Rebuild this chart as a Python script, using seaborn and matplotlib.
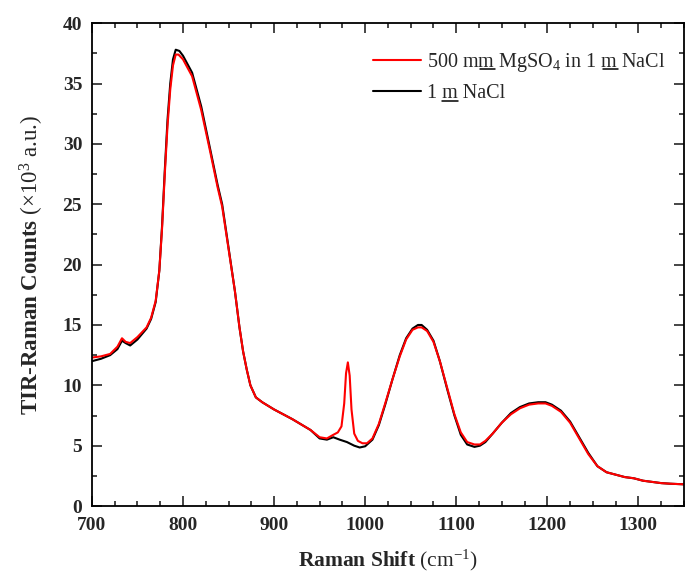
import matplotlib

matplotlib.use("Agg")

import matplotlib.pyplot as plt
import seaborn as sns
from matplotlib.lines import Line2D
from matplotlib.ticker import MultipleLocator

# Raman spectra (x in cm^-1, y in 10^3 counts)
mgso4_shift = [700, 710, 720, 728, 733, 737, 742, 750, 760, 765, 770, 774, 777, 780,
               783, 786, 789, 792, 795, 800, 810, 820, 830, 838, 843, 850, 857, 862,
               866, 870, 874, 880, 887, 900, 920, 940, 950, 958, 965, 970, 974, 977,
               979, 981, 983, 985, 988, 992, 997, 1002, 1008, 1015, 1022, 1030, 1038,
               1045, 1052, 1058, 1062, 1068, 1075, 1082, 1090, 1098, 1105, 1112, 1120,
               1126, 1132, 1140, 1150, 1160, 1170, 1180, 1190, 1198, 1205, 1215, 1225,
               1235, 1245, 1255, 1265, 1275, 1285, 1295, 1305, 1315, 1325, 1335, 1350]
mgso4_counts = [12.3, 12.4, 12.6, 13.2, 13.9, 13.6, 13.5, 14.0, 14.8, 15.6, 17.0, 19.5,
                23.0, 27.5, 31.5, 34.5, 36.5, 37.4, 37.4, 37.0, 35.6, 32.8, 29.3, 26.4,
                24.8, 21.3, 17.8, 14.8, 12.8, 11.3, 10.0, 9.0, 8.6, 8.0, 7.2, 6.3, 5.7,
                5.6, 5.9, 6.1, 6.6, 8.5, 11.0, 11.9, 10.8, 8.0, 6.0, 5.4, 5.2, 5.2, 5.6,
                6.8, 8.5, 10.5, 12.4, 13.8, 14.6, 14.8, 14.8, 14.5, 13.6, 12.0, 9.8, 7.6,
                6.1, 5.3, 5.1, 5.1, 5.4, 6.0, 6.9, 7.6, 8.1, 8.4, 8.5, 8.5, 8.3, 7.8,
                6.9, 5.6, 4.3, 3.3, 2.8, 2.6, 2.4, 2.3, 2.1, 2.0, 1.9, 1.85, 1.8]

nacl_shift = [700, 710, 720, 728, 733, 737, 742, 750, 760, 765, 770, 774, 777, 780,
              783, 786, 789, 792, 796, 800, 810, 820, 830, 838, 843, 850, 857, 862,
              866, 870, 874, 880, 887, 900, 920, 940, 950, 958, 965, 972, 980, 988,
              994, 1000, 1008, 1015, 1022, 1030, 1038, 1045, 1052, 1058, 1062, 1068,
              1075, 1082, 1090, 1098, 1105, 1112, 1120, 1126, 1132, 1140, 1150, 1160,
              1170, 1180, 1190, 1198, 1205, 1215, 1225, 1235, 1245, 1255, 1265, 1275,
              1285, 1295, 1305, 1315, 1325, 1335, 1350]
nacl_counts = [12.0, 12.2, 12.5, 13.0, 13.7, 13.5, 13.3, 13.8, 14.7, 15.5, 16.9, 19.5,
               23.2, 27.8, 32.0, 35.0, 37.0, 37.8, 37.7, 37.3, 35.9, 33.1, 29.5, 26.6,
               25.0, 21.4, 17.8, 14.8, 12.8, 11.3, 10.0, 9.0, 8.6, 8.0, 7.2, 6.3, 5.6,
               5.5, 5.7, 5.5, 5.3, 5.0, 4.85, 4.95, 5.5, 6.7, 8.4, 10.5, 12.5, 13.9,
               14.7, 15.0, 15.0, 14.6, 13.7, 12.0, 9.7, 7.5, 5.9, 5.1, 4.9, 5.0, 5.3,
               6.0, 6.9, 7.7, 8.2, 8.5, 8.6, 8.6, 8.4, 7.9, 7.0, 5.7, 4.4, 3.3, 2.8,
               2.6, 2.4, 2.3, 2.1, 2.0, 1.9, 1.85, 1.8]

mgso4_label = "500 mm MgSO$\\mathrm{_4}$ in 1 m NaCl"
nacl_label = "1 m NaCl"
# which 'm' characters (molal units) get underlined in each label
mgso4_underlined = [5, mgso4_label.index("1 m ") + 2]
nacl_underlined = [2]

sns.set_theme(style="ticks")
plt.rcParams["font.family"] = ["Liberation Serif", "DejaVu Serif"]
plt.rcParams["mathtext.fontset"] = "custom"
plt.rcParams["mathtext.rm"] = "Liberation Serif"
plt.rcParams["mathtext.it"] = "Liberation Serif:italic"
plt.rcParams["mathtext.bf"] = "Liberation Serif:bold"

fig = plt.figure(figsize=(6.86, 5.79), dpi=100)
ax = fig.add_axes([0.134, 0.126, 0.863, 0.834])

sns.lineplot(x=nacl_shift, y=nacl_counts, color="black", linewidth=1.5,
             label=nacl_label, ax=ax)
sns.lineplot(x=mgso4_shift, y=mgso4_counts, color="red", linewidth=1.5,
             label=mgso4_label, ax=ax)

ax.set_xlim(700, 1350)
ax.set_ylim(0, 40)
ax.xaxis.set_major_locator(MultipleLocator(100))
ax.xaxis.set_minor_locator(MultipleLocator(25))
ax.yaxis.set_major_locator(MultipleLocator(5))
ax.yaxis.set_minor_locator(MultipleLocator(2.5))
ax.tick_params(which="both", direction="in", top=True, right=True, width=1.2)
ax.tick_params(which="major", length=7, labelsize=14)
ax.tick_params(which="minor", length=3.6)
ax.tick_params(axis="x", which="major", pad=8)
ax.tick_params(axis="y", which="major", pad=7)
for lbl in ax.get_xticklabels() + ax.get_yticklabels():
    lbl.set_fontweight("bold")
for sp in ax.spines.values():
    sp.set_linewidth(1.3)
    sp.set_color("black")

ax.set_xlabel("$\\mathbf{Raman\\ Shift}$ (cm$^{-1}$)", fontsize=15.5, labelpad=10)
ax.set_ylabel("$\\mathbf{TIR}$-$\\mathbf{Raman\\ Counts}$ (\u00d710$^3$ a.u.)",
              fontsize=16.5, labelpad=12)

handles, labels = ax.get_legend_handles_labels()
leg = ax.legend(handles[::-1], labels[::-1], loc="upper right", frameon=False,
                fontsize=14.5, handlelength=2.4, handletextpad=0.3,
                bbox_to_anchor=(1.0, 0.98))

# underline the molal "m" units in the legend
fig.canvas.draw()
renderer = fig.canvas.get_renderer()
to_fig = fig.transFigure.inverted()
marks = {mgso4_label: mgso4_underlined, nacl_label: nacl_underlined}
for t in leg.get_texts():
    s = t.get_text()
    fp = t.get_fontproperties()
    ismath = "$" in s
    bb = t.get_window_extent(renderer)
    lp_d = renderer.get_text_width_height_descent("lp", fp, ismath=False)[2]
    d = max(lp_d, renderer.get_text_width_height_descent(s, fp, ismath=ismath)[2])
    base = bb.y0 + d
    w_m = renderer.get_text_width_height_descent("m", fp, ismath=False)[0]
    for i in marks[s]:
        w_end = renderer.get_text_width_height_descent(s[:i + 1], fp, ismath=ismath)[0]
        x1 = bb.x0 + w_end
        x0 = x1 - w_m
        y = base - 2.5
        p0 = to_fig.transform((x0, y))
        p1 = to_fig.transform((x1, y))
        fig.add_artist(Line2D([p0[0], p1[0]], [p0[1], p1[1]], color="black",
                              linewidth=1.1, transform=fig.transFigure))

fig.savefig("out.png", dpi=100)
